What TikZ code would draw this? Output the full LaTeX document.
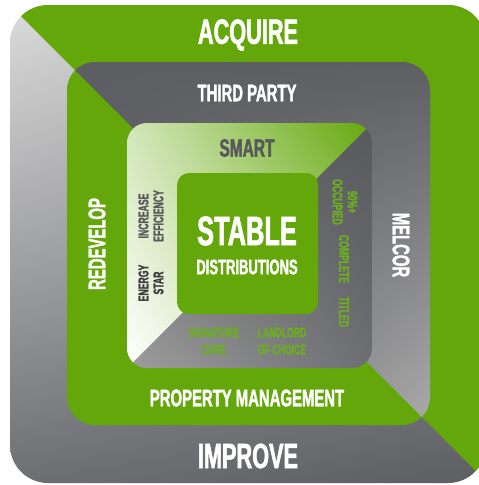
\documentclass[tikz,border=0pt]{standalone}
\usepackage{fontspec}
\usetikzlibrary{shadings}
% narrow, heavy capitals for all labels
\newfontfamily\bebas[FakeStretch=0.62, FakeBold=1.6]{Liberation Sans}

\definecolor{leaf}{HTML}{64A70B}
\definecolor{slate}{HTML}{5D5E62}
\definecolor{slatetext}{HTML}{58595B}
\definecolor{inkgray}{HTML}{3D3D3F}
\definecolor{leaftext}{HTML}{6CAE1F}

\tikzset{
  lbl/.style={inner sep=0pt, align=center, text=white},
  big/.style={font=\bebas\bfseries\fontsize{35}{35}\selectfont},
  mid/.style={font=\bebas\bfseries\fontsize{24}{24}\selectfont},
  small/.style={font=\bebas\bfseries\fontsize{14}{15}\selectfont},
}

\begin{document}
\begin{tikzpicture}[x=1pt,y=-1pt]
\useasboundingbox (0,0) rectangle (479,485);

% ---- outer ring: grey lower-left half, green upper-right half
\shade[rounded corners=38, upper left=black!14, upper right=black!30,
       lower left=slate!90!white, lower right=slate] (10,5) rectangle (486,483);
\begin{scope}
  \clip (-20,-25) -- (520,-25) -- (520,515) -- cycle;
  \fill[leaf, rounded corners=38] (10,5) rectangle (486,483);
\end{scope}

% ---- second ring: green lower-left half, grey upper-right half
\fill[leaf, rounded corners=28] (67,62) rectangle (430,425);
\begin{scope}
  \clip (-20,-25) -- (520,-25) -- (520,515) -- cycle;
  \shade[rounded corners=28, upper left=slate, upper right=slate,
         lower left=slate, lower right=black!33] (67,62) rectangle (430,425);
\end{scope}

% ---- third ring: grey lower-right half, pale green upper-left half
\shade[rounded corners=20, upper left=slate, upper right=slate!95!black,
       lower left=black!38, lower right=slate!90!white] (127,123) rectangle (372,368);
\begin{scope}
  \clip (90,405) -- (405,90) -- (90,90) -- cycle;
  \shade[rounded corners=20, upper left=leaf!28!white, upper right=leaf,
         lower left=white, lower right=leaf!40!white] (127,123) rectangle (372,368);
\end{scope}

% ---- core
\fill[leaf, rounded corners=12] (177,173) rectangle (318,314);

% ---- labels
\node[lbl, big] (acquire) at (248,35) {ACQUIRE};
\node[lbl, big] (improve) at (248,456) {IMPROVE};
\node[lbl, mid] (third) at (247,93) {THIRD PARTY};
\node[lbl, mid] (propmgmt) at (247,398) {PROPERTY MANAGEMENT};
\node[lbl, mid, rotate=90] (redevelop) at (97,244) {REDEVELOP};
\node[lbl, mid, rotate=-90] (melcor) at (401,245) {MELCOR};
\node[lbl, mid, text=slatetext, font=\bebas\bfseries\fontsize{25}{25}\selectfont] (smart) at (247,148) {SMART};
\node[lbl, font=\bebas\bfseries\fontsize{41}{41}\selectfont] (stable) at (247,231) {STABLE};
\node[lbl, font=\bebas\bfseries\fontsize{21}{21}\selectfont] (distrib) at (247,267) {DISTRIBUTIONS};

\node[lbl, small, text=slatetext, rotate=90] (efficiency) at (151,216) {INCREASE\\EFFICIENCY};
\node[lbl, small, text=inkgray, rotate=90] (energy) at (151,283) {ENERGY\\STAR};
\node[lbl, small, text=leaftext, rotate=-90] (occupied) at (345,202) {90\%+\\OCCUPIED};
\node[lbl, small, text=leaftext, rotate=-90] (complete) at (344,259) {COMPLETE};
\node[lbl, small, text=leaftext, rotate=-90] (titled) at (344,312) {TITLED};
\node[lbl, small, text=leaftext, font=\bebas\bfseries\fontsize{14}{17}\selectfont] (signature) at (214,341) {SIGNATURE\\CARE};
\node[lbl, small, text=leaftext, font=\bebas\bfseries\fontsize{14}{17}\selectfont] (landlord) at (282,341) {LANDLORD\\OF CHOICE};
\end{tikzpicture}
\end{document}
